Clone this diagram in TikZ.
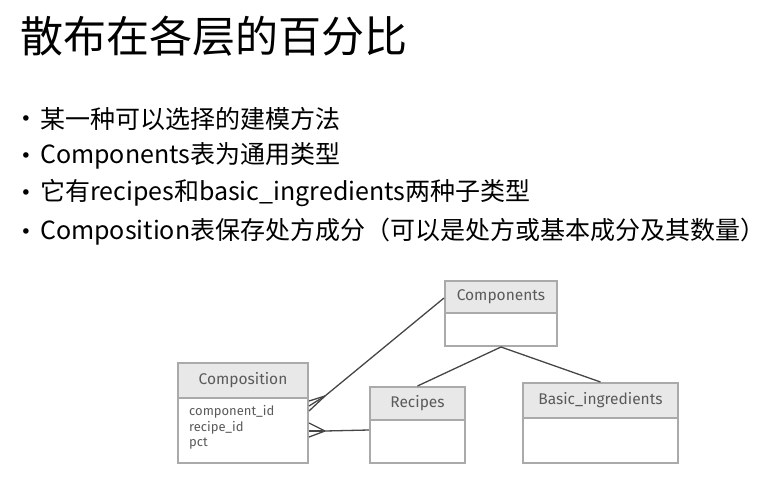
\documentclass[tikz,border=0pt]{standalone}
\usepackage{fontspec}
\setmainfont{Noto Sans CJK SC}
\newfontfamily\sketchfont{Fira Sans}
\newfontfamily\dotfont{DejaVu Sans}
\usetikzlibrary{calc}
\definecolor{boxline}{RGB}{170,170,170}
\definecolor{headfill}{RGB}{232,232,232}
\definecolor{sketchtext}{RGB}{90,90,90}
\definecolor{linkcol}{RGB}{70,70,70}
\tikzset{
  hdr/.style={draw=boxline, line width=2pt, fill=headfill, inner sep=0pt,
    font=\sketchfont\fontsize{15.5}{15.5}\selectfont, text=sketchtext},
  bdy/.style={draw=boxline, line width=2pt, fill=white, inner sep=0pt},
  item/.style={font=\sketchfont\fontsize{13}{13}\selectfont, text=sketchtext, anchor=west, inner sep=0pt},
  link/.style={draw=linkcol, line width=1.3pt},
  bul/.style={font=\fontsize{25}{25}\selectfont, anchor=west, inner sep=0pt},
  dot/.style={font=\dotfont\fontsize{19}{19}\selectfont, inner sep=0pt}
}
\begin{document}
\begin{tikzpicture}[x=1pt,y=-1pt]
\useasboundingbox (0,0) rectangle (769,480);
\fill[white] (0,0) rectangle (769,480);
% title
\node[anchor=west, inner sep=0pt, font=\fontsize{43}{43}\selectfont] (title) at (20,36) {散布在各层的百分比};
% bullets
\node[dot] (d1) at (26,121) {•};
\node[bul] (b1) at (40,119) {某一种可以选择的建模方法};
\node[dot] (d2) at (26,158) {•};
\node[bul] (b2) at (40,156) {Components表为通用类型};
\node[dot] (d3) at (26,195) {•};
\node[bul] (b3) at (40,193) {它有recipes和basic\_ingredients两种子类型};
\node[dot] (d4) at (26,234) {•};
\node[bul] (b4) at (40,232) {Composition表保存处方成分（可以是处方或基本成分及其数量）};
% Components
\node[hdr, minimum width=112pt, minimum height=32pt] (compsH) at (501,297) {Components};
\node[bdy, minimum width=112pt, minimum height=33pt] (compsB) at (501,329.5) {};
% Composition
\node[hdr, minimum width=130pt, minimum height=35pt] (compoH) at (243,380.5) {Composition};
\node[bdy, minimum width=130pt, minimum height=65pt] (compoB) at (243,430.5) {};
\node[item] (i1) at (189,412) {component\_id};
\node[item] (i2) at (189,428) {recipe\_id};
\node[item] (i3) at (189,444) {pct};
% Recipes
\node[hdr, minimum width=95pt, minimum height=33pt] (recH) at (417.5,403.5) {Recipes};
\node[bdy, minimum width=95pt, minimum height=43pt] (recB) at (417.5,441.5) {};
% Basic_ingredients
\node[hdr, minimum width=155pt, minimum height=35pt] (basH) at (600.5,400.5) {Basic\_ingredients};
\node[bdy, minimum width=155pt, minimum height=45pt] (basB) at (600.5,440.5) {};
% connectors
\coordinate (f1) at ($(compoB.north east)+(16,-1)$);
\draw[link] ($(compsB.north west)+(0,-14)$) -- (f1);
\draw[link] (f1) -- ($(compoB.north east)+(0,4)$);
\draw[link] (f1) -- ($(compoB.north east)+(0,9)$);
\draw[link] (f1) -- ($(compoB.north east)+(0,14)$);
\coordinate (f2) at ($(compoB.north east)+(16,34)$);
\draw[link] ($(recB.north west)+(0,11)$) -- (f2);
\draw[link] (f2) -- ($(compoB.north east)+(0,26)$);
\draw[link] (f2) -- ($(compoB.north east)+(0,34)$);
\draw[link] (f2) -- ($(compoB.north east)+(0,40)$);
\draw[link] (compsB.south) -- (recH.north);
\draw[link] (compsB.south) -- (basH.north);
\end{tikzpicture}
\end{document}
